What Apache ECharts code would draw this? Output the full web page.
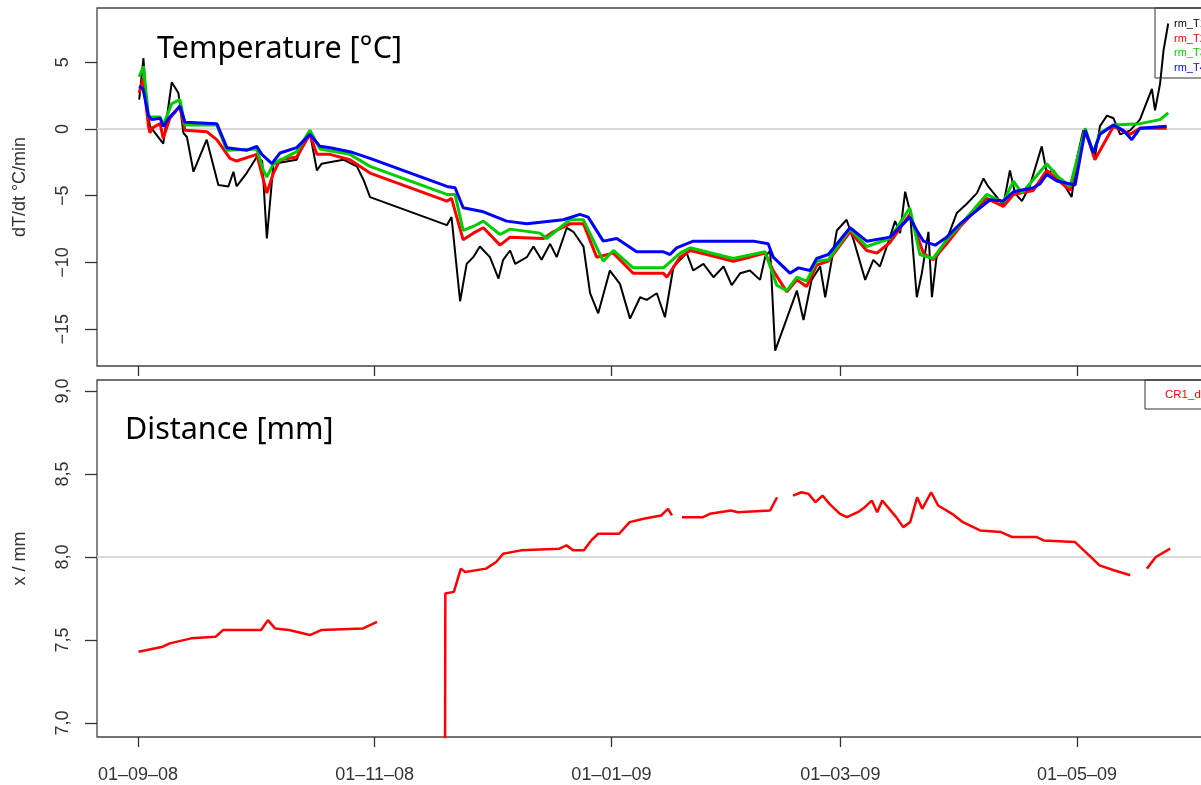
<!DOCTYPE html>
<html>
<head>
<meta charset="utf-8">
<script src="https://cdn.jsdelivr.net/npm/echarts@6.0.0/dist/echarts.min.js"></script>
<style>
html,body{margin:0;padding:0;background:#fff;}
#chart{width:1201px;height:785px;}
</style>
</head>
<body>
<div id="chart"></div>
<script>
// ---- data: [days since 2008-09-01, value] ----
const seriesNames = ['rm_T1', 'rm_T2', 'rm_T3', 'rm_T4'];
const distName = 'CR1_dist';

const rmT1 = [[0.3,2.2],[1.4,5.3],[2.2,1.7],[3.1,0.2],[6.5,-1.1],[8.7,3.5],[10.4,2.7],[11.7,-0.3],[12.6,-0.6],[14.3,-3.2],
[17.7,-0.8],[20.7,-4.2],[23.3,-4.3],[24.6,-3.2],[25.4,-4.3],[28.0,-3.3],[30.6,-2.1],[32.0,-2.4],[33.2,-8.2],[34.9,-2.6],
[40.9,-2.3],[42.6,-1.1],[44.3,-0.3],[46.1,-3.1],[47.3,-2.6],[52.9,-2.3],[56.4,-2.8],[58.1,-3.8],[59.8,-5.1],[79.6,-7.2],
[80.8,-6.6],[83.0,-12.9],[84.7,-10.1],[86.4,-9.6],[88.1,-8.8],[90.7,-9.6],[92.9,-11.2],[94.1,-9.8],[95.9,-9.1],[97.2,-10.1],
[100.2,-9.6],[101.9,-8.8],[104.0,-9.8],[106.2,-8.6],[107.9,-9.6],[110.5,-7.4],[112.2,-7.7],[114.8,-8.8],[116.5,-12.3],[118.6,-13.8],
[121.6,-10.6],[124.2,-11.6],[126.8,-14.2],[129.4,-12.6],[131.1,-12.8],[133.7,-12.3],[135.8,-14.1],[138.0,-10.3],[141.4,-9.3],[143.1,-10.6],
[145.7,-10.1],[148.3,-11.1],[150.9,-10.3],[153.0,-11.7],[155.2,-10.8],[157.7,-10.6],[160.3,-11.3],[161.6,-9.6],[162.9,-9.1],[164.2,-16.6],
[169.8,-12.1],[171.5,-14.3],[173.6,-11.3],[175.8,-10.3],[177.1,-12.6],[179.2,-9.1],[180.1,-7.6],[182.6,-6.8],[184.4,-8.3],[187.4,-11.3],
[189.5,-9.8],[191.2,-10.3],[193.8,-8.1],[195.1,-6.9],[196.4,-7.8],[197.7,-4.7],[198.9,-6.1],[200.7,-12.6],[202.0,-10.8],[203.7,-7.7],
[204.6,-12.6],[205.8,-9.6],[208.4,-8.3],[211.0,-6.3],[213.6,-5.6],[216.2,-4.8],[217.9,-3.7],[219.1,-4.3],[223.0,-5.7],[224.7,-3.1],
[226.0,-4.8],[227.8,-5.4],[229.9,-4.2],[232.9,-1.3],[234.2,-3.3],[235.9,-3.1],[238.5,-4.1],[240.6,-5.1],[241.9,-2.3],[243.6,-0.1],
[245.4,-1.1],[246.6,-2.1],[247.9,0.2],[249.7,1.0],[251.4,0.8],[253.1,-0.4],[255.7,-0.1],[258.2,0.7],[261.3,3.0],[262.1,1.4],
[263.4,3.4],[264.3,5.9],[265.5,7.9]];

const rmT2 = [[0.3,2.7],[1.3,3.8],[2.7,0.2],[3.1,-0.3],[3.5,0.05],[5.7,0.4],[6.5,-0.7],[8.2,0.8],[10.8,1.7],[12.1,-0.1],
[17.7,-0.2],[20.3,-0.8],[23.7,-2.2],[25.4,-2.4],[30.6,-1.9],[32.3,-3.8],[33.2,-4.8],[34.9,-3.3],[36.6,-2.3],[40.9,-2.1],
[44.3,-0.4],[46.1,-1.9],[49.5,-1.9],[54.6,-2.3],[59.8,-3.3],[79.6,-5.4],[80.8,-5.2],[83.8,-8.3],[86.4,-7.8],[89.0,-7.4],
[93.3,-8.7],[95.9,-8.1],[104.5,-8.2],[107.0,-7.7],[111.3,-7.1],[114.8,-7.1],[118.2,-9.6],[122.5,-9.3],[127.6,-10.8],[135.4,-10.8],
[136.3,-11.1],[139.7,-9.6],[142.3,-9.1],[146.6,-9.4],[153.4,-9.9],[157.7,-9.6],[161.6,-9.3],[163.7,-10.6],[167.2,-12.2],[169.8,-11.3],
[172.3,-11.8],[174.9,-10.2],[177.9,-9.9],[183.5,-7.7],[187.8,-9.1],[190.4,-9.3],[193.8,-8.5],[198.9,-6.4],[202.4,-9.3],[204.9,-9.8],
[208.4,-8.6],[211.9,-7.3],[218.7,-5.2],[223.0,-5.8],[225.6,-4.9],[230.7,-4.6],[234.2,-3.1],[240.2,-4.6],[244.1,-0.1],[246.6,-2.3],
[251.4,0.2],[255.7,-0.4],[258.2,0.05],[265.1,0.05]];

const rmT3 = [[0.3,3.9],[1.4,4.7],[2.7,0.9],[5.7,0.9],[6.5,0.3],[8.7,1.9],[10.8,2.2],[12.1,0.3],[20.3,0.3],[22.9,-1.6],
[30.6,-1.5],[32.3,-3.1],[33.2,-3.6],[34.9,-2.6],[40.9,-1.7],[44.3,-0.1],[46.9,-1.5],[54.6,-1.9],[59.8,-2.8],[79.6,-4.9],
[81.7,-4.9],[83.8,-7.6],[86.4,-7.3],[89.0,-6.9],[93.3,-7.9],[95.9,-7.5],[103.6,-7.8],[105.3,-8.2],[111.3,-6.8],[114.8,-6.8],
[119.9,-9.9],[122.5,-9.1],[127.6,-10.4],[135.4,-10.4],[139.7,-9.3],[142.3,-8.9],[153.4,-9.7],[161.6,-9.2],[164.6,-11.7],[167.2,-12.1],
[169.8,-11.1],[172.3,-11.4],[174.9,-9.9],[177.9,-9.8],[183.5,-7.5],[187.8,-8.8],[193.8,-8.2],[198.9,-5.9],[201.5,-9.4],[204.9,-9.7],
[208.4,-8.3],[211.9,-7.2],[218.7,-4.9],[223.0,-5.5],[225.6,-3.9],[227.8,-4.8],[234.2,-2.6],[236.8,-3.5],[240.2,-4.3],[244.1,0.05],
[246.2,-1.8],[247.9,-0.3],[251.4,0.3],[258.2,0.4],[263.4,0.7],[265.5,1.2]];

const rmT4 = [[0.3,3.2],[1.3,3.0],[2.7,1.0],[3.5,0.7],[5.7,0.8],[6.5,0.2],[8.2,0.9],[10.8,1.7],[12.1,0.5],[20.3,0.4],
[22.9,-1.4],[28.0,-1.6],[30.6,-1.3],[31.9,-1.9],[34.5,-2.6],[36.6,-1.8],[40.9,-1.4],[44.3,-0.4],[46.9,-1.3],[49.5,-1.4],
[54.6,-1.7],[59.8,-2.2],[79.6,-4.3],[81.7,-4.4],[83.8,-5.9],[89.0,-6.2],[92.4,-6.6],[95.0,-6.9],[100.2,-7.1],[109.6,-6.8],
[113.9,-6.4],[116.0,-6.6],[119.9,-8.4],[123.4,-8.2],[128.5,-9.2],[135.4,-9.2],[137.1,-9.4],[138.8,-8.9],[143.1,-8.4],[150.9,-8.4],
[158.6,-8.4],[162.4,-8.6],[163.7,-9.6],[168.0,-10.8],[170.2,-10.4],[173.2,-10.6],[174.9,-9.7],[177.9,-9.4],[183.5,-7.4],[187.8,-8.4],
[193.8,-8.1],[198.9,-6.6],[200.7,-7.6],[202.4,-8.4],[205.4,-8.7],[208.4,-8.1],[211.9,-7.1],[216.2,-6.1],[219.6,-5.3],[223.0,-5.4],
[225.6,-4.7],[230.7,-4.4],[232.5,-4.1],[234.2,-3.4],[236.8,-3.9],[241.5,-4.2],[244.1,-0.1],[246.2,-1.8],[247.9,-0.4],[251.4,0.3],
[253.9,-0.1],[256.1,-0.8],[258.2,0.05],[265.1,0.2]];

const cr1Dist = [[0.15,7.43],[6.4,7.46],[8.2,7.48],[13.7,7.51],[20.0,7.52],[21.9,7.56],[31.7,7.56],[33.5,7.62],[35.3,7.57],[38.9,7.56],
[44.3,7.53],[47.2,7.56],[58.0,7.57],[61.6,7.61],[62.5,null],
[79.1,6.5],[79.2,7.78],[81.4,7.79],[83.2,7.93],[84.3,7.91],[89.7,7.93],[92.3,7.97],[94.1,8.02],[98.7,8.04],[108.6,8.05],
[110.4,8.07],[112.2,8.04],[114.9,8.04],[116.8,8.10],[118.6,8.14],[124.0,8.14],[126.7,8.21],[130.3,8.23],[134.8,8.25],[136.6,8.29],
[137.6,8.25],[139.5,null],
[140.2,8.24],[145.6,8.24],[147.4,8.26],[152.8,8.28],[154.6,8.27],[162.9,8.28],[164.7,8.36],[166.0,null],
[168.8,8.37],[171.0,8.39],[172.8,8.38],[174.6,8.33],[176.4,8.37],[178.2,8.32],[180.9,8.26],[182.7,8.24],[185.5,8.27],[187.3,8.30],
[189.1,8.34],[190.5,8.27],[191.8,8.34],[193.6,8.29],[195.4,8.24],[197.2,8.18],[199.0,8.21],[200.8,8.36],[202.1,8.29],[204.4,8.39],
[206.2,8.31],[209.8,8.26],[212.6,8.21],[217.0,8.16],[222.4,8.15],[225.3,8.12],[231.6,8.12],[233.4,8.10],[241.5,8.09],[245.1,8.01],
[247.8,7.95],[251.5,7.92],[255.7,7.89],[256.5,null],
[260.0,7.93],[262.3,8.00],[266.0,8.05]];

// tick labels
const xTickDates = [[2008,8,1],[2008,10,1],[2009,0,1],[2009,2,1],[2009,4,1]];
const tempTicks = [-15, -10, -5, 0, 5];
const distTicks = [7.0, 7.5, 8.0, 8.5, 9.0];

// ---- build ----
const DAY = 86400000;
const T0 = Date.UTC(2008, 8, 1);
const toTime = arr => arr.map(p => [T0 + p[0] * DAY, p[1]]);
const xTicks = xTickDates.map(d => Date.UTC(d[0], d[1], d[2]));
const pad = n => (n < 10 ? '0' : '') + n;
const fmtDate = v => { const d = new Date(v); return pad(d.getUTCDate()) + '\u2013' + pad(d.getUTCMonth() + 1) + '\u2013' + pad(d.getUTCFullYear() % 100); };

const FONT = 'Liberation Sans';
const colors = ['#000000', '#ff0000', '#00cd00', '#0000ff'];
const xMin = T0 - 10.57 * DAY, xMax = T0 + 285.8 * DAY;

function xAxis(gi, showLabel) {
  return {
    type: 'value', gridIndex: gi, min: xMin, max: xMax,
    axisLine: { show: false, onZero: false },
    axisTick: { show: true, length: 10, customValues: xTicks, lineStyle: { color: '#333', width: 1.3 } },
    axisLabel: { show: showLabel, customValues: xTicks, formatter: fmtDate, margin: 29, fontSize: 18, color: '#333', fontFamily: FONT },
    splitLine: { show: false }
  };
}

const chart = echarts.init(document.getElementById('chart'));
chart.setOption({
  animation: false,
  backgroundColor: '#fff',
  title: [
    { text: 'Temperature [°C]', left: 157, top: 34, padding: 0, textStyle: { fontFamily: 'Noto Sans', fontSize: 30.5, fontWeight: 'normal', color: '#000' } },
    { text: 'Distance [mm]', left: 125, top: 415, padding: 0, textStyle: { fontFamily: 'Noto Sans', fontSize: 30.5, fontWeight: 'normal', color: '#000' } }
  ],
  legend: [
    {
      data: seriesNames.map((n, i) => ({ name: n, textStyle: { color: colors[i] } })),
      left: 1155, top: 8, orient: 'vertical', icon: 'none', itemWidth: 0, itemHeight: 11, itemGap: 3.5,
      padding: [10.5, 60, 5, 14], borderColor: '#333', borderWidth: 1, selectedMode: false,
      textStyle: { fontSize: 11, fontFamily: FONT }
    },
    {
      data: [{ name: distName, textStyle: { color: '#ff0000' } }],
      left: 1145, top: 380, orient: 'vertical', icon: 'none', itemWidth: 0, itemHeight: 11,
      padding: [8.5, 60, 8.5, 15], borderColor: '#333', borderWidth: 1, selectedMode: false,
      textStyle: { fontSize: 11.5, fontFamily: FONT }
    }
  ],
  grid: [
    { left: 97, top: 8, width: 1150, height: 358, outerBoundsMode: 'none', containLabel: false,
      show: true, borderColor: '#444', borderWidth: 1.3, backgroundColor: 'transparent' },
    { left: 97, top: 380, width: 1150, height: 357, outerBoundsMode: 'none', containLabel: false,
      show: true, borderColor: '#444', borderWidth: 1.3, backgroundColor: 'transparent' }
  ],
  xAxis: [xAxis(0, false), xAxis(1, true)],
  yAxis: [
    {
      type: 'value', gridIndex: 0, min: -17.75, max: 9.06,
      axisLine: { show: false, onZero: false },
      axisTick: { show: true, length: 12, customValues: tempTicks, lineStyle: { color: '#333', width: 1.3 } },
      axisLabel: { customValues: tempTicks, rotate: 90, margin: 25, fontSize: 18, color: '#333', fontFamily: FONT,
        formatter: v => String(v).replace('-', '\u2212') },
      splitLine: { show: false },
      name: 'dT/dt °C/min', nameLocation: 'middle', nameGap: 68, nameRotate: 90,
      nameTextStyle: { fontSize: 18, color: '#333', fontFamily: FONT }
    },
    {
      type: 'value', gridIndex: 1, min: 6.916, max: 9.066,
      axisLine: { show: false, onZero: false },
      axisTick: { show: true, length: 12, customValues: distTicks, lineStyle: { color: '#333', width: 1.3 } },
      axisLabel: { customValues: distTicks, rotate: 90, margin: 25, fontSize: 18, color: '#333', fontFamily: FONT,
        formatter: v => Number(v).toFixed(1).replace('.', ',') },
      splitLine: { show: false },
      name: 'x / mm', nameLocation: 'middle', nameGap: 68, nameRotate: 90,
      nameTextStyle: { fontSize: 18, color: '#333', fontFamily: FONT }
    }
  ],
  series: [
    {
      name: seriesNames[0], type: 'line', xAxisIndex: 0, yAxisIndex: 0, data: toTime(rmT1), showSymbol: false,
      lineStyle: { color: colors[0], width: 2 }, itemStyle: { color: colors[0] },
      markLine: { silent: true, z: 1, symbol: ['none', 'none'], label: { show: false },
        lineStyle: { color: '#d9d9d9', width: 2, type: 'solid' }, data: [{ yAxis: 0 }] }
    },
    { name: seriesNames[1], type: 'line', xAxisIndex: 0, yAxisIndex: 0, data: toTime(rmT2), showSymbol: false,
      lineStyle: { color: colors[1], width: 3 }, itemStyle: { color: colors[1] } },
    { name: seriesNames[2], type: 'line', xAxisIndex: 0, yAxisIndex: 0, data: toTime(rmT3), showSymbol: false,
      lineStyle: { color: colors[2], width: 3 }, itemStyle: { color: colors[2] } },
    { name: seriesNames[3], type: 'line', xAxisIndex: 0, yAxisIndex: 0, data: toTime(rmT4), showSymbol: false,
      lineStyle: { color: colors[3], width: 3 }, itemStyle: { color: colors[3] } },
    {
      name: distName, type: 'line', xAxisIndex: 1, yAxisIndex: 1, data: toTime(cr1Dist), showSymbol: false, connectNulls: false,
      lineStyle: { color: '#ff0000', width: 2.5 }, itemStyle: { color: '#ff0000' },
      markLine: { silent: true, z: 1, symbol: ['none', 'none'], label: { show: false },
        lineStyle: { color: '#d9d9d9', width: 2, type: 'solid' }, data: [{ yAxis: 8 }] }
    }
  ]
});
</script>
</body>
</html>
